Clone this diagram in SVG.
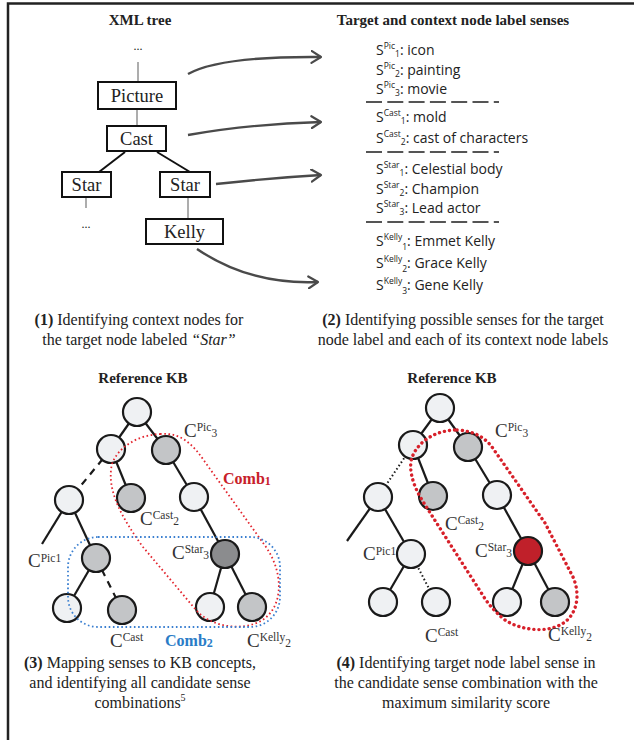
<svg xmlns="http://www.w3.org/2000/svg" width="634" height="740" viewBox="0 0 634 740">
<style>
.ser{font-family:"Liberation Serif","Times New Roman",serif;fill:#222}
.ttl{font-family:"Liberation Serif","Times New Roman",serif;font-weight:bold;font-size:15px;fill:#222;text-anchor:middle}
.cap{font-family:"Liberation Serif","Times New Roman",serif;font-size:16px;fill:#222;text-anchor:middle}
.box{fill:#fff;stroke:#111;stroke-width:2}
.bt{font-family:"Liberation Serif","Times New Roman",serif;font-size:18.5px;fill:#222;text-anchor:middle}
.gl{stroke:#999;stroke-width:1.6}
.bl{stroke:#111;stroke-width:2}
.arr{fill:none;stroke:#4a4a4a;stroke-width:2.4;marker-end:url(#ah)}
.sn{font-family:"Open Sans","Liberation Sans",sans-serif;font-size:14px;fill:#222}
.sp{font-size:8.5px}
.sep{stroke:#555;stroke-width:2;stroke-dasharray:16 5.3}
.e{stroke:#1a1a1a;stroke-width:2.2}
.ed{stroke:#1a1a1a;stroke-width:2.2;stroke-dasharray:7 6}
.eo{stroke:#1a1a1a;stroke-width:2;stroke-dasharray:1.5 2.5}
.n{stroke:#1a1a1a;stroke-width:2.2}
.lt{fill:#eff1f3}
.gy{fill:#c3c5c7}
.dk{fill:#8b8c8e}
.rd{fill:#c0202a}
.cl{font-family:"Liberation Serif","Times New Roman",serif;font-size:19px;fill:#333}
.cs{font-size:11.5px}
</style>
<defs>
<marker id="ah" viewBox="0 0 12 14" refX="10.5" refY="7" markerWidth="12" markerHeight="14" orient="auto" markerUnits="userSpaceOnUse">
<path d="M1,1 L10.5,7 L1,13" fill="none" stroke="#4a4a4a" stroke-width="2.2" stroke-linecap="round" stroke-linejoin="round"/>
</marker>
</defs>
<rect width="634" height="740" fill="#fff"/>
<path d="M8,740 L8,3.5 L634,3.5" fill="none" stroke="#222" stroke-width="2.5"/>

<!-- Panel 1 -->
<text class="ttl" x="140" y="25">XML tree</text>
<text class="ser" x="138" y="50" font-size="12" text-anchor="middle">...</text>
<g id="xml-edges">
<line class="gl" x1="138" y1="62" x2="138" y2="82"/>
<line class="gl" x1="137" y1="109" x2="137" y2="126"/>
<line class="bl" x1="125" y1="152" x2="99" y2="172"/>
<line class="bl" x1="157" y1="152" x2="190" y2="172"/>
<line class="gl" x1="86" y1="197" x2="86" y2="208"/>
<line class="gl" x1="188" y1="198" x2="188" y2="219"/>
</g>
<g id="node-picture"><rect class="box" x="98" y="82" width="78" height="27"/><text class="bt" x="137" y="101.5">Picture</text></g>
<g id="node-cast"><rect class="box" x="107" y="126" width="59" height="25"/><text class="bt" x="136.5" y="144.5">Cast</text></g>
<g id="node-star1"><rect class="box" x="62" y="172" width="49" height="25"/><text class="bt" x="86.5" y="190.5">Star</text></g>
<g id="node-star2"><rect class="box" x="160" y="172" width="50" height="25" stroke-width="4"/><text class="bt" x="185" y="191">Star</text></g>
<g id="node-kelly"><rect class="box" x="146" y="219" width="77" height="25" fill="#e6e7e8"/><text class="bt" x="184.5" y="238">Kelly</text></g>
<text class="ser" x="86" y="228" font-size="12" text-anchor="middle">...</text>

<g id="arrows">
<path class="arr" d="M188,74 Q220,56 321,57"/>
<path class="arr" d="M188,135 Q250,124 321,122"/>
<path class="arr" d="M216,184 Q270,178 321,175"/>
<path class="arr" d="M197,249 Q250,285 318,282"/>
</g>

<!-- Panel 2 -->
<text class="ttl" x="453" y="25">Target and context node label senses</text>
<g id="senses">
<text class="sn" x="376" y="55">S<tspan class="sp" dy="-6">Pic</tspan><tspan class="sp" dy="8">1</tspan><tspan dy="-2">: icon</tspan></text>
<text class="sn" x="376" y="75">S<tspan class="sp" dy="-6">Pic</tspan><tspan class="sp" dy="8">2</tspan><tspan dy="-2">: painting</tspan></text>
<text class="sn" x="376" y="94">S<tspan class="sp" dy="-6">Pic</tspan><tspan class="sp" dy="8">3</tspan><tspan dy="-2">: movie</tspan></text>
<line class="sep" x1="366" y1="102" x2="499" y2="102"/>
<text class="sn" x="376" y="122">S<tspan class="sp" dy="-6">Cast</tspan><tspan class="sp" dy="8">1</tspan><tspan dy="-2">: mold</tspan></text>
<text class="sn" x="376" y="143">S<tspan class="sp" dy="-6">Cast</tspan><tspan class="sp" dy="8">2</tspan><tspan dy="-2">: cast of characters</tspan></text>
<line class="sep" x1="366" y1="152" x2="499" y2="152"/>
<text class="sn" x="376" y="174">S<tspan class="sp" dy="-6">Star</tspan><tspan class="sp" dy="8">1</tspan><tspan dy="-2">: Celestial body</tspan></text>
<text class="sn" x="376" y="194">S<tspan class="sp" dy="-6">Star</tspan><tspan class="sp" dy="8">2</tspan><tspan dy="-2">: Champion</tspan></text>
<text class="sn" x="376" y="213">S<tspan class="sp" dy="-6">Star</tspan><tspan class="sp" dy="8">3</tspan><tspan dy="-2">: Lead actor</tspan></text>
<line class="sep" x1="366" y1="222" x2="499" y2="222"/>
<text class="sn" x="376" y="246">S<tspan class="sp" dy="-6">Kelly</tspan><tspan class="sp" dy="10">1</tspan><tspan dy="-4">: Emmet Kelly</tspan></text>
<text class="sn" x="376" y="268">S<tspan class="sp" dy="-6">Kelly</tspan><tspan class="sp" dy="10">2</tspan><tspan dy="-4">: Grace Kelly</tspan></text>
<text class="sn" x="376" y="290">S<tspan class="sp" dy="-6">Kelly</tspan><tspan class="sp" dy="10">3</tspan><tspan dy="-4">: Gene Kelly</tspan></text>
</g>

<text class="cap" x="139" y="325"><tspan font-weight="bold">(1)</tspan> Identifying context nodes for</text>
<text class="cap" x="139" y="345">the target node labeled <tspan font-style="italic">“Star”</tspan></text>
<text class="cap" x="463" y="325"><tspan font-weight="bold">(2)</tspan> Identifying possible senses for the target</text>
<text class="cap" x="463" y="345">node label and each of its context node labels</text>

<!-- Panel 3 -->
<text class="ttl" x="143" y="383">Reference KB</text>
<g id="kb3-edges">
<line class="e" x1="137" y1="412" x2="111" y2="449"/>
<line class="e" x1="137" y1="412" x2="166" y2="450"/>
<line class="ed" x1="111" y1="449" x2="69" y2="500"/>
<line class="e" x1="111" y1="449" x2="131" y2="498"/>
<line class="e" x1="166" y1="450" x2="194" y2="497"/>
<line class="e" x1="194" y1="497" x2="225" y2="554"/>
<line class="e" x1="69" y1="500" x2="42" y2="544"/>
<line class="e" x1="69" y1="500" x2="96" y2="558"/>
<line class="e" x1="96" y1="558" x2="67" y2="608"/>
<line class="ed" x1="96" y1="558" x2="122" y2="610"/>
<line class="e" x1="225" y1="554" x2="210" y2="607"/>
<line class="e" x1="225" y1="554" x2="252" y2="607"/>
</g>
<g id="kb3-nodes">
<circle class="n lt" cx="137" cy="412" r="14"/>
<circle class="n lt" cx="111" cy="449" r="14"/>
<circle class="n gy" cx="166" cy="450" r="14"/>
<circle class="n lt" cx="69" cy="500" r="14"/>
<circle class="n gy" cx="131" cy="498" r="14"/>
<circle class="n lt" cx="194" cy="497" r="14"/>
<circle class="n gy" cx="96" cy="558" r="14"/>
<circle class="n dk" cx="225" cy="554" r="14"/>
<circle class="n lt" cx="67" cy="608" r="14"/>
<circle class="n gy" cx="122" cy="610" r="14"/>
<circle class="n lt" cx="210" cy="607" r="14"/>
<circle class="n gy" cx="252" cy="607" r="14"/>
</g>
<path id="comb1" d="M160,434 C182,432 194,446 205,462 L266,547 C283,572 284,604 264,619 C245,632 212,628 196,610 L143,547 C122,518 106,490 112,464 C118,447 138,435 160,434 Z" fill="none" stroke="#e3262f" stroke-width="1.8" stroke-dasharray="1.6 2.6"/>
<rect id="comb2" x="68" y="537" width="212" height="90" rx="30" fill="none" stroke="#3a7fd0" stroke-width="1.8" stroke-dasharray="1.6 2.6"/>
<text x="223" y="484" font-family="Liberation Serif,serif" font-weight="bold" font-size="16" fill="#c8202a">Comb<tspan font-size="12" dy="1">1</tspan></text>
<text x="165" y="646" font-family="Liberation Serif,serif" font-weight="bold" font-size="16" fill="#2a7cc7">Comb<tspan font-size="12" dy="1">2</tspan></text>
<g id="kb3-labels">
<text class="cl" x="184" y="437">C<tspan class="cs" dy="-6">Pic</tspan><tspan class="cs" dy="6">3</tspan></text>
<text class="cl" x="140" y="525">C<tspan class="cs" dy="-6">Cast</tspan><tspan class="cs" dy="6">2</tspan></text>
<text class="cl" x="172" y="559">C<tspan class="cs" dy="-6">Star</tspan><tspan class="cs" dy="6">3</tspan></text>
<text class="cl" x="28" y="567">C<tspan class="cs" dy="-5">Pic1</tspan></text>
<text class="cl" x="110" y="647">C<tspan class="cs" dy="-6">Cast</tspan></text>
<text class="cl" x="247" y="647">C<tspan class="cs" dy="-6">Kelly</tspan><tspan class="cs" dy="6">2</tspan></text>
</g>

<!-- Panel 4 -->
<text class="ttl" x="452" y="383">Reference KB</text>
<g id="kb4-edges">
<line class="e" x1="440" y1="408" x2="413" y2="445"/>
<line class="e" x1="440" y1="408" x2="468" y2="447"/>
<line class="eo" x1="413" y1="445" x2="378" y2="497"/>
<line class="e" x1="413" y1="445" x2="433" y2="496"/>
<line class="e" x1="468" y1="447" x2="497" y2="495"/>
<line class="e" x1="497" y1="495" x2="528" y2="551"/>
<line class="e" x1="378" y1="497" x2="347" y2="541"/>
<line class="e" x1="378" y1="497" x2="411" y2="554"/>
<line class="e" x1="411" y1="554" x2="383" y2="602"/>
<line class="eo" x1="411" y1="554" x2="436" y2="602"/>
<line class="e" x1="528" y1="551" x2="507" y2="602"/>
<line class="e" x1="528" y1="551" x2="555" y2="602"/>
</g>
<g id="kb4-nodes">
<circle class="n lt" cx="440" cy="408" r="14"/>
<circle class="n lt" cx="413" cy="445" r="14"/>
<circle class="n gy" cx="468" cy="447" r="14"/>
<circle class="n lt" cx="378" cy="497" r="14"/>
<circle class="n gy" cx="433" cy="496" r="14"/>
<circle class="n lt" cx="497" cy="495" r="14"/>
<circle class="n lt" cx="411" cy="554" r="14"/>
<circle class="n rd" cx="528" cy="551" r="14"/>
<circle class="n lt" cx="383" cy="602" r="14"/>
<circle class="n lt" cx="436" cy="602" r="14"/>
<circle class="n lt" cx="507" cy="602" r="14"/>
<circle class="n gy" cx="555" cy="602" r="14"/>
</g>
<path id="comb-max" d="M457,430 C475,431 485,438 492,447 L545,523 L573,577 C582,598 575,618 560,625 C545,633 520,630 505,620 C495,612 488,604 482,594 L443,533 L422,500 C411,482 408,465 413,455 C420,440 437,430 457,430 Z" fill="none" stroke="#d7202a" stroke-width="3.4" stroke-linecap="round" stroke-dasharray="0.1 5"/>
<g id="kb4-labels">
<text class="cl" x="495" y="437">C<tspan class="cs" dy="-6">Pic</tspan><tspan class="cs" dy="6">3</tspan></text>
<text class="cl" x="445" y="530">C<tspan class="cs" dy="-6">Cast</tspan><tspan class="cs" dy="6">2</tspan></text>
<text class="cl" x="475" y="557">C<tspan class="cs" dy="-6">Star</tspan><tspan class="cs" dy="6">3</tspan></text>
<text class="cl" x="363" y="560">C<tspan class="cs" dy="-5">Pic1</tspan></text>
<text class="cl" x="425" y="642">C<tspan class="cs" dy="-6">Cast</tspan></text>
<text class="cl" x="548" y="641">C<tspan class="cs" dy="-6">Kelly</tspan><tspan class="cs" dy="6">2</tspan></text>
</g>

<text class="cap" x="140" y="668"><tspan font-weight="bold">(3)</tspan> Mapping senses to KB concepts,</text>
<text class="cap" x="140" y="688">and identifying all candidate sense</text>
<text class="cap" x="140" y="708">combinations<tspan font-size="10" dy="-7">5</tspan></text>
<text class="cap" x="466" y="668"><tspan font-weight="bold">(4)</tspan> Identifying target node label sense in</text>
<text class="cap" x="466" y="688">the candidate sense combination with the</text>
<text class="cap" x="466" y="708">maximum similarity score</text>
</svg>
